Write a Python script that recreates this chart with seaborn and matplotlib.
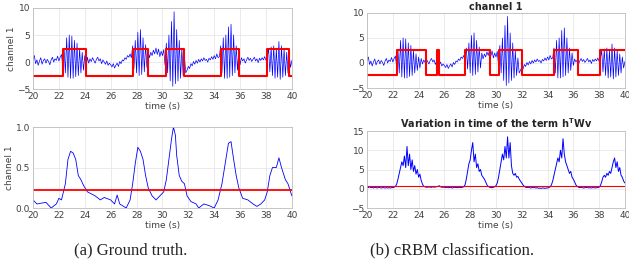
import numpy as np
import pandas as pd
import matplotlib
matplotlib.use("Agg")
import matplotlib.pyplot as plt
import seaborn as sns

# time axis, 0.1 s steps from 20 to 40 s
time_s = np.round(np.arange(20.0, 40.05, 0.1), 2)

# raw channel 1 signal
signal = [
    0.5, 1.2, -0.3, 0.4, -0.6, 0.2, 0.8, -0.4, 0.3, 0.6,
    -0.2, 0.5, 0.1, -0.5, 0.4, 0.9, 0.0, 0.6, 0.3, 1.1,
    0.2, 0.9, 1.4, -0.8, 2.5, -2.0, 4.5, -2.8, 5.0, -3.0,
    4.8, -3.0, 4.0, -2.7, 3.5, -2.5, 2.5, -2.0, 1.8, -1.5,
    1.2, -1.0, 0.9, -0.2, 0.6, 0.1, 0.8, 0.3, -0.2, 0.5,
    0.9, 0.2, 0.6, -0.3, 0.4, 0.0, -0.4, 0.2, -0.6, -0.2,
    -0.5, -0.9, -0.3, -1.1, -0.6, -0.2, -0.8, 0.1, -0.3, 0.4,
    0.2, 0.8, 0.5, 1.2, 0.9, 1.5, 0.8, 3.0, -1.2, 4.0,
    -2.0, 5.5, -2.5, 6.0, -2.3, 4.5, -1.8, 3.2, -1.0, 2.0,
    0.8, 1.8, 1.2, 2.2, 1.5, 2.6, 1.4, 2.4, 1.0, 2.0,
    1.2, 2.3, -0.5, 3.5, -2.0, 5.0, -3.5, 7.5, -4.5, 9.3,
    -4.0, 6.0, -3.5, 4.0, -3.0, 2.5, -2.5, 1.0, -2.0, -1.5,
    -0.8, -1.2, -0.3, -0.7, 0.1, -0.4, 0.3, -0.2, 0.5, 0.0,
    0.6, 0.2, 0.8, 0.3, 0.5, 0.0, 0.7, 0.4, 1.0, 0.5,
    1.2, 0.6, 1.5, 0.8, 1.0, 3.0, -2.0, 4.5, -3.0, 5.0,
    -3.0, 6.5, -2.8, 7.0, -2.5, 5.0, -2.0, 3.0, -1.5, 2.0,
    -0.5, 0.8, 0.2, 0.6, -0.2, 0.4, 0.9, 0.3, 0.7, 0.1,
    0.5, 0.9, 0.2, 0.6, -0.1, 0.7, 0.3, 0.8, 0.4, 1.0,
    0.3, 0.9, 2.5, -1.8, 2.8, -2.5, 3.0, -3.0, 2.5, -2.8,
    3.8, -3.2, 3.0, -2.8, 2.5, -2.5, 1.8, -2.0, 1.2, -1.0,
    0.3,
]

# h^T W v term
htwv = [
    0.5, 0.3, 0.5, 0.3, 0.4, 0.2, 0.4, 0.3, 0.2, 0.4,
    0.3, 0.2, 0.3, 0.3, 0.2, 0.3, 0.2, 0.3, 0.2, 0.3,
    0.3, 0.4, 0.6, 1.2, 2.5, 4.0, 5.5, 7.0, 6.0, 8.5,
    5.5, 11.0, 6.0, 9.0, 5.0, 7.5, 4.5, 6.0, 3.8, 5.0,
    3.0, 3.8, 2.2, 1.2, 0.6, 0.5, 0.4, 0.4, 0.5, 0.4,
    0.4, 0.5, 0.4, 0.5, 0.5, 0.6, 0.8, 0.5, 0.4, 0.4,
    0.4, 0.3, 0.4, 0.3, 0.3, 0.4, 0.2, 0.3, 0.4, 0.3,
    0.3, 0.3, 0.4, 0.3, 0.4, 0.5, 1.0, 2.5, 4.5, 6.5,
    7.5, 10.0, 12.0, 7.0, 9.0, 5.5, 6.5, 4.5, 5.0, 3.5,
    3.0, 2.5, 1.8, 1.0, 0.6, 0.4, 0.3, 0.3, 0.4, 0.5,
    0.8, 1.5, 3.0, 5.0, 7.0, 9.0, 7.5, 11.0, 8.0, 13.5,
    8.0, 12.0, 6.0, 4.0, 3.5, 4.0, 3.0, 3.2, 2.5, 2.0,
    1.5, 1.0, 0.6, 0.4, 0.3, 0.4, 0.3, 0.2, 0.3, 0.3,
    0.3, 0.2, 0.3, 0.1, 0.2, 0.1, 0.2, 0.2, 0.1, 0.2,
    0.2, 0.3, 0.5, 1.0, 2.0, 3.5, 5.0, 6.5, 8.0, 7.0,
    10.0, 8.0, 13.0, 9.0, 7.0, 6.0, 5.0, 4.0, 4.5, 3.0,
    2.5, 1.8, 1.0, 0.6, 0.4, 0.3, 0.4, 0.3, 0.2, 0.3,
    0.3, 0.4, 0.2, 0.3, 0.2, 0.3, 0.3, 0.2, 0.3, 0.3,
    0.4, 0.8, 1.8, 3.0, 3.5, 3.0, 4.0, 3.5, 4.5, 4.0,
    5.5, 7.0, 8.0, 5.5, 7.0, 4.5, 5.5, 3.5, 3.0, 2.0,
    1.5,
]

# normalised envelope (ground truth detector)
env_t = [20.0, 20.3, 21.0, 21.4, 21.8, 22.0, 22.2, 22.5, 22.7, 22.9, 23.1, 23.3,
         23.5, 23.7, 23.9, 24.2, 24.8, 25.2, 25.5, 26.0, 26.3, 26.5, 26.7, 27.2,
         27.5, 27.7, 27.9, 28.1, 28.3, 28.5, 28.7, 28.9, 29.2, 29.5, 29.8, 30.1,
         30.3, 30.5, 30.7, 30.85, 31.0, 31.1, 31.3, 31.5, 31.7, 31.9, 32.2, 32.6,
         32.8, 33.2, 33.6, 34.0, 34.3, 34.6, 34.9, 35.1, 35.3, 35.5, 35.7, 35.9,
         36.2, 36.6, 37.0, 37.3, 37.6, 37.9, 38.1, 38.3, 38.5, 38.8, 39.0, 39.2,
         39.5, 39.7, 40.0]
env_v = [0.1, 0.05, 0.07, 0.0, 0.05, 0.12, 0.1, 0.3, 0.6, 0.7, 0.68, 0.6,
         0.4, 0.35, 0.28, 0.2, 0.15, 0.1, 0.13, 0.1, 0.05, 0.16, 0.05, 0.0,
         0.1, 0.3, 0.55, 0.75, 0.7, 0.6, 0.4, 0.25, 0.15, 0.1, 0.15, 0.2,
         0.35, 0.6, 0.85, 1.0, 0.9, 0.65, 0.4, 0.33, 0.3, 0.15, 0.08, 0.05,
         0.0, 0.05, 0.03, 0.0, 0.1, 0.3, 0.6, 0.8, 0.82, 0.6, 0.4, 0.25,
         0.12, 0.1, 0.05, 0.02, 0.05, 0.1, 0.2, 0.4, 0.5, 0.5, 0.62, 0.5,
         0.35, 0.3, 0.15]
env_threshold = 0.22
htwv_threshold = 0.8

# square-wave labels (step edges)
gt_edges = [20, 22.3, 24.1, 27.7, 28.9, 30.3, 31.7, 34.5, 35.9, 38.1, 39.8, 40]
gt_levels = [-2.5, 2.5, -2.5, 2.5, -2.5, 2.5, -2.5, 2.5, -2.5, 2.5, -2.5, -2.5]
rbm_edges = [20, 22.3, 24.55, 25.4, 25.6, 27.6, 29.55, 30.25, 32.0, 34.5, 36.4, 38.1, 40]
rbm_levels = [-2.5, 2.5, -2.5, 2.5, -2.5, 2.5, -2.5, 2.5, -2.5, 2.5, -2.5, 2.5, 2.5]

sig_df = pd.DataFrame({"t": time_s, "v": signal})
htwv_df = pd.DataFrame({"t": time_s, "v": htwv})
env_df = pd.DataFrame({"t": env_t, "v": env_v})
gt_df = pd.DataFrame({"t": gt_edges, "v": gt_levels})
rbm_df = pd.DataFrame({"t": rbm_edges, "v": rbm_levels})

sns.set_theme(style="whitegrid")
plt.rcParams['font.family'] = ['DejaVu Sans']

fig = plt.figure(figsize=(6.29, 2.75), dpi=100)
ax_tl = fig.add_axes([0.0525, 0.676, 0.4115, 0.295])
ax_tr = fig.add_axes([0.5835, 0.68, 0.41, 0.273])
ax_bl = fig.add_axes([0.0525, 0.2436, 0.4115, 0.2944])
ax_br = fig.add_axes([0.5835, 0.2436, 0.41, 0.28])

tick_fs = 6.5

def style(ax, ylim, yticks):
    ax.set_xlim(20, 40)
    ax.set_ylim(*ylim)
    ax.set_xticks(np.arange(20, 41, 2))
    ax.set_yticks(yticks)
    ax.tick_params(labelsize=tick_fs, pad=2, length=0, colors="#404040")
    ax.grid(True, color="#e6e6e6", linewidth=0.6)
    for s in ax.spines.values():
        s.set_color("#bdbdbd")
        s.set_linewidth(0.6)
    ax.set_xlabel("time (s)", fontsize=tick_fs, labelpad=1, color="#404040")
    ax.set_ylabel("")

# top-left: ground truth
sns.lineplot(data=sig_df, x="t", y="v", ax=ax_tl, color="blue", linewidth=0.5)
sns.lineplot(data=gt_df, x="t", y="v", ax=ax_tl, color="red", linewidth=1.5,
             drawstyle="steps-post")
style(ax_tl, (-5, 10), [-5, 0, 5, 10])
ax_tl.set_ylabel("channel 1", fontsize=tick_fs, labelpad=1, color="#404040")

# top-right: cRBM
sns.lineplot(data=sig_df, x="t", y="v", ax=ax_tr, color="blue", linewidth=0.5)
sns.lineplot(data=rbm_df, x="t", y="v", ax=ax_tr, color="red", linewidth=1.5,
             drawstyle="steps-post")
style(ax_tr, (-5, 10), [-5, 0, 5, 10])
ax_tr.set_title("channel 1", fontsize=7, fontweight="bold", pad=2)

# bottom-left: envelope
sns.lineplot(data=env_df, x="t", y="v", ax=ax_bl, color="blue", linewidth=0.6)
ax_bl.axhline(env_threshold, color="red", linewidth=1.3)
style(ax_bl, (0, 1), [0, 0.5, 1])
ax_bl.set_ylabel("channel 1", fontsize=tick_fs, labelpad=1, color="#404040")

# bottom-right: h^T W v
sns.lineplot(data=htwv_df, x="t", y="v", ax=ax_br, color="blue", linewidth=0.7)
ax_br.axhline(htwv_threshold, color="red", linewidth=0.8)
style(ax_br, (-5, 15), [-5, 0, 5, 10, 15])
ax_br.set_title(r"Variation in time of the term h$^\mathbf{T}$Wv", fontsize=7,
                fontweight="bold", pad=2)

fig.text(0.207, 0.09, "(a) Ground truth.", ha="center", va="center",
         fontsize=12, family="Liberation Serif")
fig.text(0.719, 0.09, "(b) cRBM classification.", ha="center", va="center",
         fontsize=12, family="Liberation Serif")

fig.savefig("out.png", dpi=100)
